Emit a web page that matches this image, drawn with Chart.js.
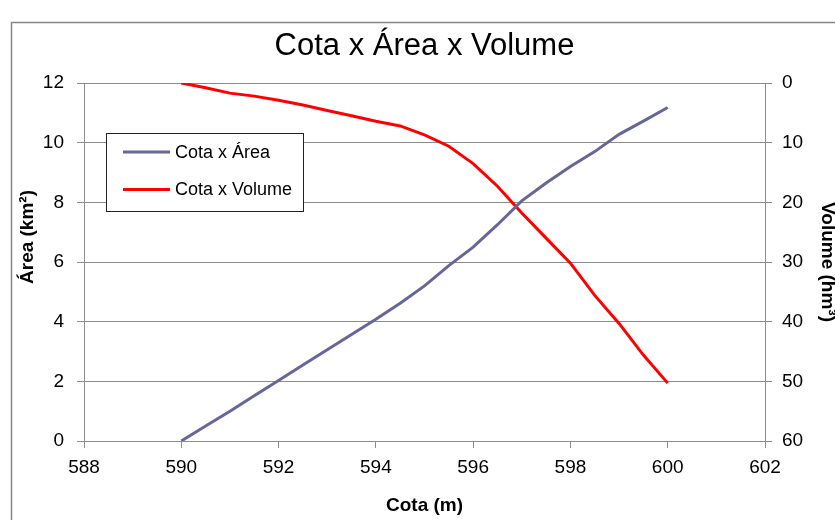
<!DOCTYPE html>
<html><head><meta charset="utf-8">
<script src="https://cdn.jsdelivr.net/npm/chart.js@4/dist/chart.umd.min.js"></script>
<style>html,body{margin:0;padding:0;background:#fff;} #wrap{width:835px;height:520px;}</style>
</head><body><div id="wrap"><canvas id="c" width="835" height="520"></canvas></div>
<script>
const chartTitle = 'Cota x Área x Volume';
const xAxisTitle = 'Cota (m)';
const yLeftTitle = 'Área (km²)';
const yRightTitle = 'Volume (hm³)';
const seriesNames = ['Cota x Área', 'Cota x Volume'];
const cota   = [590, 590.5, 591, 591.5, 592, 592.5, 593, 593.5, 594, 594.5, 595, 595.5, 596, 596.5, 597, 597.5, 598, 598.5, 599, 599.5, 600];
const area   = [0, 0.5, 1.0, 1.52, 2.03, 2.55, 3.06, 3.57, 4.08, 4.62, 5.2, 5.88, 6.5, 7.25, 8.05, 8.65, 9.2, 9.7, 10.28, 10.72, 11.18];
const volume = [0, 0.8, 1.7, 2.2, 2.9, 3.7, 4.6, 5.5, 6.4, 7.2, 8.7, 10.6, 13.5, 17.3, 21.8, 26.0, 30.2, 35.6, 40.3, 45.6, 50.3];
const xTickRange = [588, 602, 2];
const leftTickRange = [0, 12, 2];
const rightTickRange = [0, 60, 10];

const FONT = "'Liberation Sans', Arial, sans-serif";
const GRID = '#8c8c8c';

const decor = {
  id: 'decor',
  beforeDraw(chart) {
    const ctx = chart.ctx;
    ctx.save();
    ctx.fillStyle = '#fff';
    ctx.fillRect(0, 0, chart.width, chart.height);
    ctx.strokeStyle = '#868686';
    ctx.lineWidth = 1.5;
    ctx.strokeRect(11.5, 22.5, chart.width + 20, chart.height + 20);
    ctx.restore();
  },
  afterDraw(chart) {
    const ctx = chart.ctx;
    ctx.save();
    // left axis title
    ctx.fillStyle = '#000';
    ctx.font = 'bold 19px ' + FONT;
    ctx.textAlign = 'center';
    ctx.textBaseline = 'middle';
    ctx.translate(28, 237);
    ctx.rotate(-Math.PI / 2);
    ctx.fillText(yLeftTitle, 0, 0);
    ctx.restore();
    // legend box
    ctx.save();
    const bx = 106.5, by = 133.5, bw = 197, bh = 78;
    ctx.fillStyle = '#fff';
    ctx.fillRect(bx, by, bw, bh);
    ctx.strokeStyle = '#222';
    ctx.lineWidth = 1;
    ctx.strokeRect(bx, by, bw, bh);
    ctx.font = '18px ' + FONT;
    ctx.textAlign = 'left';
    ctx.textBaseline = 'middle';
    chart.data.datasets.forEach((ds, i) => {
      const y = 152 + i * 37.5;
      ctx.strokeStyle = ds.borderColor;
      ctx.lineWidth = 3;
      ctx.beginPath();
      ctx.moveTo(123, y);
      ctx.lineTo(170, y);
      ctx.stroke();
      ctx.fillStyle = '#000';
      ctx.fillText(ds.label, 175, y + 1);
    });
    ctx.restore();
  }
};

new Chart(document.getElementById('c'), {
  type: 'line',
  data: {
    datasets: [
      {
        label: seriesNames[0],
        data: cota.map((c, i) => ({x: c, y: area[i]})),
        borderColor: '#666699',
        backgroundColor: '#666699',
        borderWidth: 3,
        pointRadius: 0,
        tension: 0,
        yAxisID: 'yL'
      },
      {
        label: seriesNames[1],
        data: cota.map((c, i) => ({x: c, y: volume[i]})),
        borderColor: '#ff0000',
        backgroundColor: '#ff0000',
        borderWidth: 3,
        pointRadius: 0,
        tension: 0,
        yAxisID: 'yR'
      }
    ]
  },
  options: {
    responsive: false,
    animation: false,
    devicePixelRatio: 1,
    layout: {padding: 0},
    plugins: {
      legend: {display: false},
      tooltip: {enabled: false},
      title: {
        display: true,
        fullSize: false,
        text: chartTitle,
        color: '#000',
        font: {family: FONT, size: 31, weight: 'normal'},
        padding: {top: 28, bottom: 17.8}
      }
    },
    scales: {
      x: {
        type: 'linear',
        position: 'bottom',
        min: xTickRange[0], max: xTickRange[1],
        ticks: {stepSize: xTickRange[2], color: '#000', font: {family: FONT, size: 19}, padding: 8, maxRotation: 0},
        grid: {drawOnChartArea: false, drawTicks: true, tickLength: 7, color: GRID},
        border: {color: GRID, width: 1},
        title: {display: true, text: xAxisTitle, color: '#000', font: {family: FONT, size: 19, weight: 'bold'}, padding: {top: 0, bottom: 3}},
        afterFit(s) { s.height = 79; }
      },
      yL: {
        type: 'linear',
        position: 'left',
        min: leftTickRange[0], max: leftTickRange[1],
        ticks: {stepSize: leftTickRange[2], color: '#000', font: {family: FONT, size: 19}, padding: 13},
        grid: {drawOnChartArea: true, drawTicks: true, tickLength: 7, color: GRID},
        border: {color: GRID, width: 1},
        afterFit(s) { s.width = 84; }
      },
      yR: {
        type: 'linear',
        position: 'right',
        reverse: true,
        min: rightTickRange[0], max: rightTickRange[1],
        ticks: {stepSize: rightTickRange[2], color: '#000', font: {family: FONT, size: 19}, padding: 10},
        grid: {drawOnChartArea: false, drawTicks: true, tickLength: 7, color: GRID},
        border: {color: GRID, width: 1},
        title: {display: true, text: yRightTitle, color: '#000', font: {family: FONT, size: 19, weight: 'bold'}, padding: {top: -4, bottom: 0}},
        afterFit(s) { s.width = 70; }
      }
    }
  },
  plugins: [decor]
});
</script>
</body></html>
